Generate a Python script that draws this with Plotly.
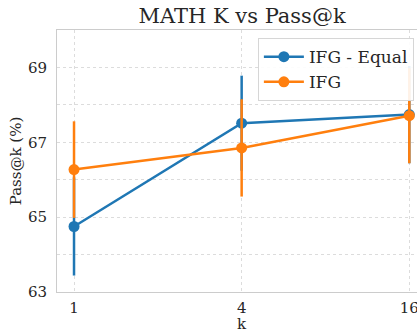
import plotly.graph_objects as go
import math

k_values = [1, 4, 16]
equal_mean = [64.75, 67.51, 67.74]
equal_err = [1.31, 1.27, 1.30]
ifg_mean = [66.27, 66.85, 67.71]
ifg_err = [1.29, 1.30, 1.27]
y_ticks = [63, 64, 65, 66, 67, 68, 69, 70]
y_labels = ["63", "", "65", "", "67", "", "69", ""]

BLUE = "#1f77b4"
ORANGE = "#ff7f0e"
FONT = "DejaVu Serif"
TXT = "#262626"

fig = go.Figure()
for name, mean, err, col in [("IFG - Equal", equal_mean, equal_err, BLUE),
                             ("IFG", ifg_mean, ifg_err, ORANGE)]:
    fig.add_trace(go.Scatter(
        x=k_values, y=mean, name=name, mode="lines+markers",
        line=dict(color=col, width=2.5),
        marker=dict(color=col, size=11),
        error_y=dict(type="data", array=err, visible=True, color=col,
                     thickness=2.5, width=0),
    ))

left_log2 = -0.203
right_log2 = 4.092
fig.update_layout(
    width=417, height=330,
    margin=dict(l=57, r=0, t=30, b=38, autoexpand=False),
    paper_bgcolor="white", plot_bgcolor="white",
    font=dict(family=FONT, color=TXT, size=15),
    title=dict(text="MATH K vs Pass@k", font=dict(family=FONT, size=21, color=TXT),
               x=0.514, xref="paper", xanchor="center",
               y=1 - 16 / 330, yref="container", yanchor="middle"),
    legend=dict(x=0.558, y=0.969, xanchor="left", yanchor="top",
                bgcolor="rgba(255,255,255,0.9)", bordercolor="#d6d6d6", borderwidth=1,
                font=dict(family=FONT, size=17, color=TXT),
                itemwidth=40, tracegroupgap=0),
    showlegend=True,
)
# x-axis title as annotation centred under the full (partly clipped) plot area
fig.add_annotation(text="k", xref="paper", yref="paper", x=0.514, y=-(313 - 292) / 262,
                   xanchor="center", yanchor="top", showarrow=False,
                   font=dict(family=FONT, size=15, color=TXT))
fig.update_xaxes(
    type="log", automargin=False,
    range=[left_log2 * math.log10(2), right_log2 * math.log10(2)],
    tickvals=k_values, ticktext=[str(v) for v in k_values],
    showgrid=True, gridcolor="#dcdcdc", griddash="dot", gridwidth=1,
    showline=True, linecolor="#cccccc", linewidth=1, mirror=True,
    zeroline=False, ticks="", ticklabelstandoff=2, ticklabeloverflow="allow",
    tickfont=dict(family=FONT, size=15, color=TXT),
)
fig.update_yaxes(
    automargin=False,
    range=[63, 70],
    tickvals=y_ticks, ticktext=y_labels,
    showgrid=True, gridcolor="#dcdcdc", griddash="dot", gridwidth=1,
    showline=True, linecolor="#cccccc", linewidth=1, mirror=True,
    zeroline=False, ticks="", ticklabelstandoff=6,
    tickfont=dict(family=FONT, size=15, color=TXT),
    title=dict(text="Pass@k (%)", font=dict(family=FONT, size=15, color=TXT), standoff=2),
)
fig.write_html("out.html")
